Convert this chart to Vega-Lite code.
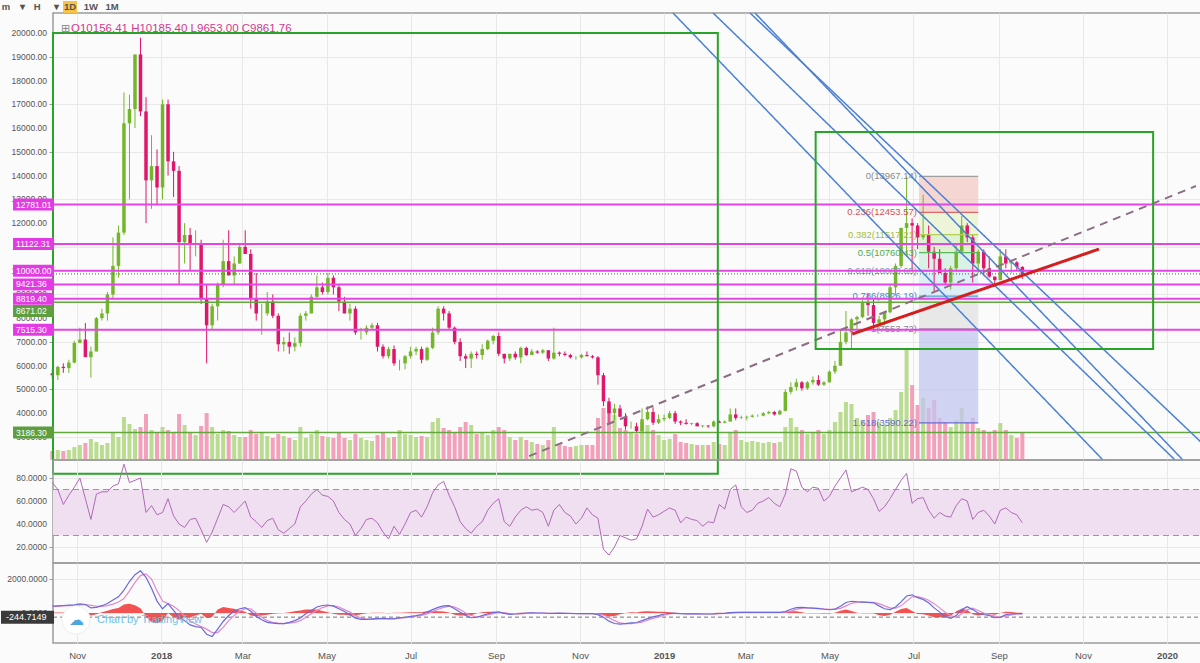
{
"$schema":"https://vega.github.io/schema/vega-lite/v6.json",
"background":"#fbfbfb",
"padding":{"left":0,"top":0,"right":0,"bottom":6},
"bounds":"flush",
"spacing":0,
"config":{
 "view":{"stroke":"#9c9c9c","strokeWidth":1.5},
 "scale":{"continuousPadding":0},
 "axis":{"labelFont":"Liberation Sans","labelFontSize":8.5,"labelColor":"#555","gridColor":"#e8e8e8","tickColor":"#999","tickSize":4,"labelPadding":2,"domain":false,"labelFlush":false,"labelOverlap":false},
 "text":{"font":"Liberation Sans"}
},
"datasets":{
 "px":[
{"d":"2017-10-14","o":5680,"h":5850,"l":5450,"c":5600,"v":90,"r":76,"m":400,"s":370,"g":30},
{"d":"2017-10-18","o":5600,"h":6000,"l":5400,"c":5950,"v":100,"r":70,"m":420,"s":390,"g":30},
{"d":"2017-10-22","o":5950,"h":6100,"l":5700,"c":5900,"v":90,"r":57,"m":440,"s":410,"g":30},
{"d":"2017-10-26","o":5900,"h":6250,"l":5700,"c":6130,"v":100,"r":65,"m":460,"s":430,"g":30},
{"d":"2017-10-30","o":6130,"h":7050,"l":6100,"c":6960,"v":130,"r":72,"m":480,"s":450,"g":30},
{"d":"2017-11-03","o":6960,"h":7600,"l":6950,"c":7100,"v":150,"r":80,"m":540,"s":480,"g":60},
{"d":"2017-11-07","o":7100,"h":7800,"l":6400,"c":6360,"v":170,"r":62,"m":500,"s":500,"g":0},
{"d":"2017-11-11","o":6360,"h":6800,"l":5500,"c":6600,"v":210,"r":44,"m":300,"s":450,"g":-150},
{"d":"2017-11-15","o":6600,"h":8050,"l":6600,"c":8000,"v":180,"r":66,"m":330,"s":400,"g":-70},
{"d":"2017-11-19","o":8000,"h":8400,"l":7900,"c":8200,"v":150,"r":68,"m":430,"s":390,"g":40},
{"d":"2017-11-23","o":8200,"h":9100,"l":7900,"c":9000,"v":170,"r":68,"m":560,"s":430,"g":130},
{"d":"2017-11-27","o":9000,"h":11400,"l":8800,"c":10200,"v":280,"r":73,"m":760,"s":520,"g":240},
{"d":"2017-12-01","o":10200,"h":11900,"l":9700,"c":11600,"v":230,"r":75,"m":950,"s":650,"g":300},
{"d":"2017-12-05","o":11600,"h":17500,"l":11500,"c":16200,"v":430,"r":92,"m":1350,"s":850,"g":500},
{"d":"2017-12-09","o":16200,"h":17400,"l":13000,"c":16800,"v":360,"r":76,"m":1850,"s":1300,"g":550},
{"d":"2017-12-13","o":16800,"h":19000,"l":16000,"c":19100,"v":310,"r":78,"m":2250,"s":1800,"g":450},
{"d":"2017-12-17","o":19100,"h":19800,"l":16500,"c":16700,"v":330,"r":80,"m":2480,"s":2200,"g":280},
{"d":"2017-12-21","o":16700,"h":17300,"l":12000,"c":13800,"v":460,"r":50,"m":2100,"s":2300,"g":-200},
{"d":"2017-12-25","o":13800,"h":15700,"l":12600,"c":14400,"v":300,"r":56,"m":1450,"s":2000,"g":-550},
{"d":"2017-12-29","o":14400,"h":15100,"l":12800,"c":13500,"v":270,"r":48,"m":700,"s":1300,"g":-600},
{"d":"2018-01-02","o":13500,"h":17200,"l":13000,"c":17000,"v":330,"r":50,"m":250,"s":700,"g":-450},
{"d":"2018-01-06","o":17000,"h":17200,"l":14000,"c":14600,"v":300,"r":62,"m":550,"s":550,"g":0},
{"d":"2018-01-10","o":14600,"h":15000,"l":13100,"c":14200,"v":280,"r":47,"m":150,"s":400,"g":-250},
{"d":"2018-01-14","o":14200,"h":14400,"l":9400,"c":11200,"v":460,"r":40,"m":-250,"s":150,"g":-400},
{"d":"2018-01-18","o":11200,"h":12000,"l":10300,"c":11500,"v":350,"r":37,"m":-450,"s":-200,"g":-250},
{"d":"2018-01-22","o":11500,"h":11800,"l":10000,"c":11100,"v":280,"r":44,"m":-700,"s":-450,"g":-250},
{"d":"2018-01-26","o":11100,"h":11700,"l":10600,"c":11100,"v":250,"r":45,"m":-800,"s":-650,"g":-150},
{"d":"2018-01-30","o":11100,"h":11300,"l":8600,"c":8800,"v":340,"r":35,"m":-850,"s":-800,"g":-50},
{"d":"2018-02-03","o":8800,"h":9400,"l":6100,"c":7700,"v":470,"r":24,"m":-1250,"s":-950,"g":-300},
{"d":"2018-02-07","o":7700,"h":8600,"l":7500,"c":8500,"v":330,"r":33,"m":-1380,"s":-1150,"g":-230},
{"d":"2018-02-11","o":8500,"h":9500,"l":7900,"c":9400,"v":260,"r":45,"m":-950,"s":-1150,"g":200},
{"d":"2018-02-15","o":9400,"h":11300,"l":9300,"c":10400,"v":300,"r":57,"m":-500,"s":-850,"g":350},
{"d":"2018-02-19","o":10400,"h":11700,"l":9800,"c":9800,"v":290,"r":55,"m":-150,"s":-450,"g":300},
{"d":"2018-02-23","o":9800,"h":10600,"l":9400,"c":10300,"v":250,"r":50,"m":100,"s":-150,"g":250},
{"d":"2018-02-27","o":10300,"h":11100,"l":10300,"c":11000,"v":230,"r":55,"m":250,"s":100,"g":150},
{"d":"2018-03-03","o":11000,"h":11700,"l":10700,"c":10700,"v":230,"r":60,"m":320,"s":250,"g":70},
{"d":"2018-03-07","o":10700,"h":10900,"l":8400,"c":8800,"v":300,"r":46,"m":100,"s":250,"g":-150},
{"d":"2018-03-11","o":8800,"h":9900,"l":7900,"c":8200,"v":260,"r":42,"m":-200,"s":0,"g":-200},
{"d":"2018-03-15","o":8200,"h":8600,"l":7300,"c":8200,"v":280,"r":37,"m":-400,"s":-250,"g":-150},
{"d":"2018-03-19","o":8200,"h":9100,"l":8100,"c":8700,"v":240,"r":43,"m":-550,"s":-450,"g":-100},
{"d":"2018-03-23","o":8700,"h":9000,"l":8000,"c":8100,"v":220,"r":45,"m":-600,"s":-550,"g":-50},
{"d":"2018-03-27","o":8100,"h":8200,"l":6600,"c":6900,"v":260,"r":35,"m":-620,"s":-600,"g":-20},
{"d":"2018-03-31","o":6900,"h":7200,"l":6600,"c":7000,"v":240,"r":32,"m":-620,"s":-620,"g":0},
{"d":"2018-04-04","o":7000,"h":7400,"l":6500,"c":6800,"v":220,"r":36,"m":-550,"s":-600,"g":50},
{"d":"2018-04-08","o":6800,"h":7200,"l":6600,"c":6950,"v":200,"r":40,"m":-450,"s":-550,"g":100},
{"d":"2018-04-12","o":6950,"h":8200,"l":6800,"c":8100,"v":330,"r":55,"m":-300,"s":-450,"g":150},
{"d":"2018-04-16","o":8100,"h":8300,"l":7900,"c":8200,"v":220,"r":60,"m":-50,"s":-250,"g":200},
{"d":"2018-04-20","o":8200,"h":9000,"l":8200,"c":8900,"v":260,"r":66,"m":150,"s":-50,"g":200},
{"d":"2018-04-24","o":8900,"h":9800,"l":8800,"c":9300,"v":300,"r":70,"m":350,"s":150,"g":200},
{"d":"2018-04-28","o":9300,"h":9500,"l":9000,"c":9100,"v":240,"r":65,"m":440,"s":320,"g":120},
{"d":"2018-05-02","o":9100,"h":9900,"l":9000,"c":9700,"v":230,"r":64,"m":470,"s":420,"g":50},
{"d":"2018-05-06","o":9700,"h":9800,"l":9000,"c":9300,"v":220,"r":60,"m":400,"s":440,"g":-40},
{"d":"2018-05-10","o":9300,"h":9400,"l":8300,"c":8700,"v":280,"r":50,"m":250,"s":350,"g":-100},
{"d":"2018-05-14","o":8700,"h":8900,"l":8200,"c":8200,"v":220,"r":44,"m":90,"s":200,"g":-110},
{"d":"2018-05-18","o":8200,"h":8600,"l":7900,"c":8400,"v":200,"r":40,"m":-100,"s":50,"g":-150},
{"d":"2018-05-22","o":8400,"h":8500,"l":7300,"c":7400,"v":260,"r":30,"m":-300,"s":-150,"g":-150},
{"d":"2018-05-26","o":7400,"h":7600,"l":7100,"c":7400,"v":220,"r":36,"m":-370,"s":-300,"g":-70},
{"d":"2018-05-30","o":7400,"h":7700,"l":7300,"c":7600,"v":200,"r":44,"m":-380,"s":-360,"g":-20},
{"d":"2018-06-03","o":7600,"h":7800,"l":7500,"c":7700,"v":190,"r":45,"m":-350,"s":-370,"g":20},
{"d":"2018-06-07","o":7700,"h":7800,"l":6600,"c":6800,"v":250,"r":41,"m":-330,"s":-350,"g":20},
{"d":"2018-06-11","o":6800,"h":6900,"l":6300,"c":6400,"v":280,"r":33,"m":-320,"s":-330,"g":10},
{"d":"2018-06-15","o":6400,"h":6800,"l":6300,"c":6700,"v":220,"r":27,"m":-350,"s":-330,"g":-20},
{"d":"2018-06-19","o":6700,"h":6850,"l":6000,"c":6100,"v":230,"r":38,"m":-330,"s":-340,"g":10},
{"d":"2018-06-23","o":6100,"h":6250,"l":5800,"c":6100,"v":300,"r":31,"m":-290,"s":-310,"g":20},
{"d":"2018-06-27","o":6100,"h":6450,"l":5850,"c":6400,"v":260,"r":40,"m":-250,"s":-280,"g":30},
{"d":"2018-07-01","o":6400,"h":6800,"l":6300,"c":6600,"v":250,"r":50,"m":-200,"s":-240,"g":40},
{"d":"2018-07-05","o":6600,"h":6800,"l":6450,"c":6700,"v":230,"r":52,"m":-150,"s":-190,"g":40},
{"d":"2018-07-09","o":6700,"h":6800,"l":6100,"c":6250,"v":240,"r":46,"m":-90,"s":-140,"g":50},
{"d":"2018-07-13","o":6250,"h":6800,"l":6200,"c":6750,"v":230,"r":55,"m":50,"s":-50,"g":100},
{"d":"2018-07-17","o":6750,"h":7600,"l":6700,"c":7400,"v":380,"r":67,"m":200,"s":80,"g":120},
{"d":"2018-07-21","o":7400,"h":8500,"l":7300,"c":8400,"v":420,"r":74,"m":330,"s":220,"g":110},
{"d":"2018-07-25","o":8400,"h":8500,"l":7900,"c":8200,"v":320,"r":77,"m":420,"s":330,"g":90},
{"d":"2018-07-29","o":8200,"h":8300,"l":7500,"c":7600,"v":300,"r":65,"m":430,"s":400,"g":30},
{"d":"2018-08-02","o":7600,"h":7650,"l":6900,"c":7000,"v":280,"r":55,"m":250,"s":350,"g":-100},
{"d":"2018-08-06","o":7000,"h":7150,"l":6200,"c":6400,"v":330,"r":42,"m":50,"s":200,"g":-150},
{"d":"2018-08-10","o":6400,"h":6500,"l":5900,"c":6300,"v":380,"r":36,"m":-150,"s":0,"g":-150},
{"d":"2018-08-14","o":6300,"h":6600,"l":5900,"c":6500,"v":350,"r":32,"m":-280,"s":-150,"g":-130},
{"d":"2018-08-18","o":6500,"h":6600,"l":6300,"c":6450,"v":260,"r":38,"m":-250,"s":-240,"g":-10},
{"d":"2018-08-22","o":6450,"h":6900,"l":6250,"c":6700,"v":280,"r":42,"m":-150,"s":-200,"g":50},
{"d":"2018-08-26","o":6700,"h":7100,"l":6650,"c":7050,"v":250,"r":52,"m":-50,"s":-120,"g":70},
{"d":"2018-08-30","o":7050,"h":7300,"l":6900,"c":7250,"v":300,"r":58,"m":40,"s":-40,"g":80},
{"d":"2018-09-03","o":7250,"h":7400,"l":6400,"c":6500,"v":330,"r":62,"m":60,"s":30,"g":30},
{"d":"2018-09-07","o":6500,"h":6500,"l":6100,"c":6300,"v":300,"r":42,"m":-20,"s":20,"g":-40},
{"d":"2018-09-11","o":6300,"h":6500,"l":6200,"c":6500,"v":230,"r":38,"m":-80,"s":-40,"g":-40},
{"d":"2018-09-15","o":6500,"h":6600,"l":6250,"c":6350,"v":200,"r":46,"m":-60,"s":-60,"g":0},
{"d":"2018-09-19","o":6350,"h":6800,"l":6100,"c":6750,"v":230,"r":52,"m":-30,"s":-50,"g":20},
{"d":"2018-09-23","o":6750,"h":6800,"l":6400,"c":6450,"v":200,"r":55,"m":0,"s":-20,"g":20},
{"d":"2018-09-27","o":6450,"h":6700,"l":6450,"c":6600,"v":180,"r":52,"m":10,"s":0,"g":10},
{"d":"2018-10-01","o":6600,"h":6650,"l":6500,"c":6550,"v":160,"r":53,"m":0,"s":0,"g":0},
{"d":"2018-10-05","o":6550,"h":6700,"l":6500,"c":6650,"v":150,"r":50,"m":0,"s":0,"g":0},
{"d":"2018-10-09","o":6650,"h":6650,"l":6200,"c":6300,"v":200,"r":38,"m":-30,"s":-10,"g":-20},
{"d":"2018-10-13","o":6300,"h":7600,"l":6250,"c":6550,"v":330,"r":52,"m":-20,"s":-20,"g":0},
{"d":"2018-10-17","o":6550,"h":6600,"l":6400,"c":6500,"v":160,"r":57,"m":-10,"s":-15,"g":5},
{"d":"2018-10-21","o":6500,"h":6600,"l":6400,"c":6450,"v":140,"r":50,"m":-20,"s":-15,"g":-5},
{"d":"2018-10-25","o":6450,"h":6500,"l":6300,"c":6350,"v":130,"r":47,"m":-30,"s":-20,"g":-10},
{"d":"2018-10-29","o":6350,"h":6400,"l":6250,"c":6350,"v":140,"r":40,"m":-40,"s":-30,"g":-10},
{"d":"2018-11-02","o":6350,"h":6500,"l":6300,"c":6450,"v":150,"r":45,"m":-40,"s":-35,"g":-5},
{"d":"2018-11-06","o":6450,"h":6600,"l":6400,"c":6400,"v":150,"r":54,"m":-30,"s":-35,"g":5},
{"d":"2018-11-10","o":6400,"h":6450,"l":6300,"c":6350,"v":150,"r":48,"m":-40,"s":-35,"g":-5},
{"d":"2018-11-14","o":6350,"h":6400,"l":5200,"c":5600,"v":420,"r":45,"m":-100,"s":-60,"g":-40},
{"d":"2018-11-18","o":5600,"h":5700,"l":4300,"c":4500,"v":520,"r":18,"m":-250,"s":-120,"g":-130},
{"d":"2018-11-22","o":4500,"h":4650,"l":3550,"c":4000,"v":560,"r":13,"m":-480,"s":-280,"g":-200},
{"d":"2018-11-26","o":4000,"h":4400,"l":3700,"c":4200,"v":450,"r":20,"m":-620,"s":-450,"g":-170},
{"d":"2018-11-30","o":4200,"h":4350,"l":3850,"c":3850,"v":320,"r":30,"m":-650,"s":-580,"g":-70},
{"d":"2018-12-04","o":3850,"h":4000,"l":3300,"c":3450,"v":300,"r":28,"m":-630,"s":-630,"g":0},
{"d":"2018-12-08","o":3450,"h":3650,"l":3350,"c":3450,"v":280,"r":26,"m":-580,"s":-620,"g":40},
{"d":"2018-12-12","o":3450,"h":3600,"l":3150,"c":3250,"v":260,"r":27,"m":-560,"s":-590,"g":30},
{"d":"2018-12-16","o":3250,"h":4200,"l":3200,"c":3750,"v":380,"r":38,"m":-450,"s":-540,"g":90},
{"d":"2018-12-20","o":3750,"h":4300,"l":3700,"c":4050,"v":350,"r":53,"m":-330,"s":-430,"g":100},
{"d":"2018-12-24","o":4050,"h":4250,"l":3500,"c":3600,"v":300,"r":46,"m":-230,"s":-320,"g":90},
{"d":"2018-12-28","o":3600,"h":3950,"l":3550,"c":3750,"v":250,"r":48,"m":-150,"s":-230,"g":80},
{"d":"2019-01-01","o":3750,"h":3950,"l":3650,"c":3800,"v":200,"r":51,"m":-60,"s":-130,"g":70},
{"d":"2019-01-05","o":3800,"h":4100,"l":3750,"c":4000,"v":210,"r":54,"m":-20,"s":-60,"g":40},
{"d":"2019-01-09","o":4000,"h":4100,"l":3550,"c":3650,"v":260,"r":52,"m":-20,"s":-30,"g":10},
{"d":"2019-01-13","o":3650,"h":3700,"l":3500,"c":3600,"v":180,"r":41,"m":-40,"s":-30,"g":-10},
{"d":"2019-01-17","o":3600,"h":3750,"l":3520,"c":3550,"v":170,"r":46,"m":-50,"s":-40,"g":-10},
{"d":"2019-01-21","o":3550,"h":3600,"l":3500,"c":3580,"v":160,"r":44,"m":-50,"s":-50,"g":0},
{"d":"2019-01-25","o":3580,"h":3620,"l":3450,"c":3450,"v":150,"r":43,"m":-50,"s":-50,"g":0},
{"d":"2019-01-29","o":3450,"h":3500,"l":3400,"c":3480,"v":150,"r":38,"m":-60,"s":-55,"g":-5},
{"d":"2019-02-02","o":3480,"h":3500,"l":3380,"c":3450,"v":150,"r":42,"m":-60,"s":-60,"g":0},
{"d":"2019-02-06","o":3450,"h":3700,"l":3400,"c":3650,"v":180,"r":41,"m":-50,"s":-55,"g":5},
{"d":"2019-02-10","o":3650,"h":3700,"l":3580,"c":3600,"v":160,"r":57,"m":-30,"s":-40,"g":10},
{"d":"2019-02-14","o":3600,"h":3700,"l":3570,"c":3650,"v":150,"r":53,"m":-20,"s":-25,"g":5},
{"d":"2019-02-18","o":3650,"h":4200,"l":3650,"c":3950,"v":280,"r":70,"m":20,"s":-5,"g":25},
{"d":"2019-02-22","o":3950,"h":4200,"l":3700,"c":3800,"v":300,"r":74,"m":40,"s":20,"g":20},
{"d":"2019-02-26","o":3800,"h":3900,"l":3750,"c":3820,"v":200,"r":55,"m":40,"s":35,"g":5},
{"d":"2019-03-02","o":3820,"h":3900,"l":3700,"c":3850,"v":180,"r":50,"m":40,"s":40,"g":0},
{"d":"2019-03-06","o":3850,"h":3950,"l":3820,"c":3900,"v":190,"r":52,"m":35,"s":40,"g":-5},
{"d":"2019-03-10","o":3900,"h":3950,"l":3850,"c":3900,"v":180,"r":58,"m":35,"s":35,"g":0},
{"d":"2019-03-14","o":3900,"h":4050,"l":3870,"c":4000,"v":170,"r":60,"m":40,"s":35,"g":5},
{"d":"2019-03-18","o":4000,"h":4100,"l":3950,"c":4050,"v":180,"r":63,"m":45,"s":40,"g":5},
{"d":"2019-03-22","o":4050,"h":4100,"l":3900,"c":3950,"v":170,"r":58,"m":40,"s":40,"g":0},
{"d":"2019-03-26","o":3950,"h":4150,"l":3930,"c":4100,"v":180,"r":55,"m":40,"s":40,"g":0},
{"d":"2019-03-30","o":4100,"h":5000,"l":4080,"c":4900,"v":330,"r":66,"m":80,"s":50,"g":30},
{"d":"2019-04-03","o":4900,"h":5300,"l":4800,"c":5100,"v":420,"r":88,"m":220,"s":110,"g":110},
{"d":"2019-04-07","o":5100,"h":5450,"l":4950,"c":5300,"v":330,"r":86,"m":320,"s":210,"g":110},
{"d":"2019-04-11","o":5300,"h":5350,"l":4950,"c":5050,"v":300,"r":72,"m":330,"s":290,"g":40},
{"d":"2019-04-15","o":5050,"h":5350,"l":4980,"c":5300,"v":260,"r":68,"m":300,"s":310,"g":-10},
{"d":"2019-04-19","o":5300,"h":5550,"l":5200,"c":5400,"v":280,"r":72,"m":280,"s":300,"g":-20},
{"d":"2019-04-23","o":5400,"h":5600,"l":5150,"c":5200,"v":300,"r":71,"m":260,"s":280,"g":-20},
{"d":"2019-04-27","o":5200,"h":5350,"l":5150,"c":5300,"v":260,"r":60,"m":220,"s":250,"g":-30},
{"d":"2019-05-01","o":5300,"h":5800,"l":5300,"c":5750,"v":300,"r":64,"m":190,"s":220,"g":-30},
{"d":"2019-05-05","o":5750,"h":6200,"l":5650,"c":6000,"v":380,"r":73,"m":230,"s":210,"g":20},
{"d":"2019-05-09","o":6000,"h":7500,"l":6000,"c":7000,"v":480,"r":80,"m":400,"s":270,"g":130},
{"d":"2019-05-13","o":7000,"h":8300,"l":6900,"c":7400,"v":580,"r":87,"m":620,"s":420,"g":200},
{"d":"2019-05-17","o":7400,"h":8000,"l":6700,"c":7950,"v":560,"r":68,"m":690,"s":570,"g":120},
{"d":"2019-05-21","o":7950,"h":8100,"l":7550,"c":8050,"v":420,"r":70,"m":660,"s":640,"g":20},
{"d":"2019-05-25","o":8050,"h":8800,"l":8000,"c":8650,"v":400,"r":72,"m":640,"s":650,"g":-10},
{"d":"2019-05-29","o":8650,"h":9050,"l":8100,"c":8550,"v":450,"r":70,"m":620,"s":630,"g":-10},
{"d":"2019-06-02","o":8550,"h":8800,"l":7450,"c":7800,"v":480,"r":62,"m":600,"s":620,"g":-20},
{"d":"2019-06-06","o":7800,"h":8100,"l":7500,"c":7950,"v":380,"r":51,"m":420,"s":550,"g":-130},
{"d":"2019-06-10","o":7950,"h":8300,"l":7700,"c":8250,"v":350,"r":55,"m":250,"s":420,"g":-170},
{"d":"2019-06-14","o":8250,"h":9400,"l":8200,"c":9300,"v":420,"r":62,"m":200,"s":300,"g":-100},
{"d":"2019-06-18","o":9300,"h":10300,"l":8950,"c":10200,"v":500,"r":70,"m":350,"s":280,"g":70},
{"d":"2019-06-22","o":10200,"h":11800,"l":10100,"c":11800,"v":680,"r":78,"m":650,"s":420,"g":230},
{"d":"2019-06-26","o":11800,"h":13960,"l":10600,"c":12000,"v":1100,"r":84,"m":1000,"s":700,"g":300},
{"d":"2019-06-30","o":12000,"h":12200,"l":10000,"c":11900,"v":750,"r":58,"m":1070,"s":950,"g":120},
{"d":"2019-07-04","o":11900,"h":12000,"l":10900,"c":11400,"v":550,"r":62,"m":900,"s":960,"g":-60},
{"d":"2019-07-08","o":11400,"h":13200,"l":11300,"c":11500,"v":620,"r":63,"m":800,"s":880,"g":-80},
{"d":"2019-07-12","o":11500,"h":11900,"l":10100,"c":10800,"v":520,"r":52,"m":600,"s":750,"g":-150},
{"d":"2019-07-16","o":10800,"h":11000,"l":9100,"c":10500,"v":600,"r":45,"m":300,"s":550,"g":-250},
{"d":"2019-07-20","o":10500,"h":10900,"l":9900,"c":9900,"v":420,"r":50,"m":50,"s":300,"g":-250},
{"d":"2019-07-24","o":9900,"h":10100,"l":9400,"c":9500,"v":380,"r":47,"m":-200,"s":50,"g":-250},
{"d":"2019-07-28","o":9500,"h":10200,"l":9200,"c":10100,"v":330,"r":46,"m":-320,"s":-150,"g":-170},
{"d":"2019-08-01","o":10100,"h":11100,"l":10000,"c":10800,"v":400,"r":56,"m":-150,"s":-250,"g":100},
{"d":"2019-08-05","o":10800,"h":12300,"l":10800,"c":11900,"v":520,"r":62,"m":200,"s":-50,"g":250},
{"d":"2019-08-09","o":11900,"h":12000,"l":11200,"c":11400,"v":380,"r":60,"m":370,"s":200,"g":170},
{"d":"2019-08-13","o":11400,"h":11500,"l":9500,"c":10300,"v":420,"r":44,"m":200,"s":280,"g":-80},
{"d":"2019-08-17","o":10300,"h":10900,"l":9900,"c":10800,"v":320,"r":50,"m":0,"s":150,"g":-150},
{"d":"2019-08-21","o":10800,"h":10900,"l":9800,"c":10100,"v":300,"r":52,"m":-90,"s":0,"g":-90},
{"d":"2019-08-25","o":10100,"h":10600,"l":9700,"c":9750,"v":280,"r":47,"m":-150,"s":-100,"g":-50},
{"d":"2019-08-29","o":9750,"h":9750,"l":9350,"c":9600,"v":300,"r":40,"m":-280,"s":-180,"g":-100},
{"d":"2019-09-02","o":9600,"h":10900,"l":9600,"c":10600,"v":370,"r":52,"m":-250,"s":-250,"g":0},
{"d":"2019-09-06","o":10600,"h":10900,"l":10100,"c":10300,"v":300,"r":54,"m":-100,"s":-180,"g":80},
{"d":"2019-09-10","o":10300,"h":10400,"l":9900,"c":10350,"v":250,"r":50,"m":-50,"s":-110,"g":60},
{"d":"2019-09-14","o":10350,"h":10400,"l":10000,"c":10150,"v":220,"r":48,"m":-40,"s":-60,"g":20},
{"d":"2019-09-18","o":10156.41,"h":10185.4,"l":9653,"c":9861.76,"v":280,"r":41,"m":-40,"s":-50,"g":10}
 ],
 "fb":[
{"d":"2019-07-05","d2":"2019-08-17","p":13967.14,"p2":12453.57,"k":"b0"},
{"d":"2019-07-05","d2":"2019-08-17","p":12453.57,"p2":11517.21,"k":"b1"},
{"d":"2019-07-05","d2":"2019-08-17","p":11517.21,"p2":10760.43,"k":"b2"},
{"d":"2019-07-05","d2":"2019-08-17","p":10760.43,"p2":10003.65,"k":"b3"},
{"d":"2019-07-05","d2":"2019-08-17","p":10003.65,"p2":8926.19,"k":"b4"},
{"d":"2019-07-05","d2":"2019-08-17","p":8926.19,"p2":7553.72,"k":"b5"},
{"d":"2019-07-05","d2":"2019-08-17","p":7553.72,"p2":3590.22,"k":"b6"}
 ],
 "fl":[
{"d":"2019-07-05","d2":"2019-08-17","p":13967.14,"k":"0","t":"0(13967.14)"},
{"d":"2019-07-05","d2":"2019-08-17","p":12453.57,"k":"0.236","t":"0.236(12453.57)"},
{"d":"2019-07-05","d2":"2019-08-17","p":11517.21,"k":"0.382","t":"0.382(11517.21)"},
{"d":"2019-07-05","d2":"2019-08-17","p":10760.43,"k":"0.5","t":"0.5(10760.43)"},
{"d":"2019-07-05","d2":"2019-08-17","p":10003.65,"k":"0.618","t":"0.618(10003.65)"},
{"d":"2019-07-05","d2":"2019-08-17","p":8926.19,"k":"0.786","t":"0.786(8926.19)"},
{"d":"2019-07-05","d2":"2019-08-17","p":7553.72,"k":"1","t":"1(7553.72)"},
{"d":"2019-07-05","d2":"2019-08-17","p":3590.22,"k":"1.618","t":"1.618(3590.22)"}
 ],
 "hl":[
{"d":"2017-10-14T12:00:00Z","d2":"2020-01-25T16:00:00Z","p":12781.01,"k":"m"},
{"d":"2017-10-14T12:00:00Z","d2":"2020-01-25T16:00:00Z","p":11122.31,"k":"m"},
{"d":"2017-10-14T12:00:00Z","d2":"2020-01-25T16:00:00Z","p":10000,"k":"m"},
{"d":"2017-10-14T12:00:00Z","d2":"2020-01-25T16:00:00Z","p":9861.76,"k":"k"},
{"d":"2017-10-14T12:00:00Z","d2":"2020-01-25T16:00:00Z","p":9421.36,"k":"m"},
{"d":"2017-10-14T12:00:00Z","d2":"2020-01-25T16:00:00Z","p":8819.4,"k":"m"},
{"d":"2017-10-14T12:00:00Z","d2":"2020-01-25T16:00:00Z","p":8671.02,"k":"g"},
{"d":"2017-10-14T12:00:00Z","d2":"2020-01-25T16:00:00Z","p":7515.3,"k":"m"},
{"d":"2017-10-14T12:00:00Z","d2":"2020-01-25T16:00:00Z","p":3186.3,"k":"g"}
 ],
 "hb":[
{"d":"2017-09-15T12:00:00Z","d2":"2017-10-15T06:00:00Z","p":12781.01,"k":"m","t":"12781.01"},
{"d":"2017-09-15T12:00:00Z","d2":"2017-10-15T06:00:00Z","p":11122.31,"k":"m","t":"11122.31"},
{"d":"2017-09-15T12:00:00Z","d2":"2017-10-15T06:00:00Z","p":10000,"k":"m","t":"10000.00"},
{"d":"2017-09-15T12:00:00Z","d2":"2017-10-15T06:00:00Z","p":9421.36,"k":"m","t":"9421.36"},
{"d":"2017-09-15T12:00:00Z","d2":"2017-10-15T06:00:00Z","p":8819.4,"k":"m","t":"8819.40"},
{"d":"2017-09-15T12:00:00Z","d2":"2017-10-15T06:00:00Z","p":8300,"k":"g","t":"8671.02"},
{"d":"2017-09-15T12:00:00Z","d2":"2017-10-15T06:00:00Z","p":7515.3,"k":"m","t":"7515.30"},
{"d":"2017-09-15T12:00:00Z","d2":"2017-10-15T06:00:00Z","p":3186.3,"k":"g","t":"3186.30"}
 ],
 "yt":[
{"d":"2017-10-14T12:00:00Z","p":3000},{"d":"2017-10-14T12:00:00Z","p":4000},{"d":"2017-10-14T12:00:00Z","p":5000},
{"d":"2017-10-14T12:00:00Z","p":6000},{"d":"2017-10-14T12:00:00Z","p":7000},{"d":"2017-10-14T12:00:00Z","p":8000},
{"d":"2017-10-14T12:00:00Z","p":9000},{"d":"2017-10-14T12:00:00Z","p":10000},{"d":"2017-10-14T12:00:00Z","p":11000},
{"d":"2017-10-14T12:00:00Z","p":12000},{"d":"2017-10-14T12:00:00Z","p":13000},{"d":"2017-10-14T12:00:00Z","p":14000},
{"d":"2017-10-14T12:00:00Z","p":15000},{"d":"2017-10-14T12:00:00Z","p":16000},{"d":"2017-10-14T12:00:00Z","p":17000},
{"d":"2017-10-14T12:00:00Z","p":18000},{"d":"2017-10-14T12:00:00Z","p":19000},{"d":"2017-10-14T12:00:00Z","p":20000}
 ],
 "ln":[
{"id":"b1","d":"2019-01-07T12:00:00Z","p":20842},{"id":"b1","d":"2019-11-15T12:00:00Z","p":2032},
{"id":"b2","d":"2019-02-05T14:00:00Z","p":20842},{"id":"b2","d":"2020-01-06T20:00:00Z","p":2032},
{"id":"b3","d":"2019-03-08T00:00:00Z","p":20842},{"id":"b3","d":"2020-01-12T12:00:00Z","p":2032},
{"id":"b4","d":"2019-03-04T10:00:00Z","p":20842},{"id":"b4","d":"2020-01-25T16:00:00Z","p":2786},
{"id":"r","d":"2019-05-17T12:00:00Z","p":7332},{"id":"r","d":"2019-11-12T16:00:00Z","p":10909},
{"id":"t","d":"2018-09-25T00:00:00Z","p":2197},{"id":"t","d":"2020-01-22T00:00:00Z","p":13561}
 ],
 "rc":[
{"d":"2017-10-14T12:00:00Z","d2":"2019-02-09T00:00:00Z","p":20000,"p2":1450},
{"d":"2019-04-21T00:00:00Z","d2":"2019-12-21T22:00:00Z","p":15833,"p2":6700}
 ],
 "tb":[
{"d":"2017-09-10T10:00:00Z","p":21094,"t":"m"},
{"d":"2017-09-22T17:00:00Z","p":21094,"t":"▾"},
{"d":"2017-10-03T00:00:00Z","p":21094,"t":"H"},
{"d":"2017-10-16T17:00:00Z","p":21094,"t":"▾"},
{"d":"2017-10-26T20:00:00Z","p":21094,"t":"1D"},
{"d":"2017-11-11T00:00:00Z","p":21094,"t":"1W"},
{"d":"2017-11-26T08:00:00Z","p":21094,"t":"1M"}
 ]
},
"vconcat":[
{
 "width":1148,"height":447,
 "encoding":{"x":{"field":"d","type":"temporal","title":null,
   "scale":{"type":"utc","padding":0,"domain":[{"year":2017,"month":10,"date":14,"hours":12,"utc":true},{"year":2020,"month":1,"date":25,"hours":16,"utc":true}]},
   "axis":{"values":[{"year":2017,"month":11,"date":1,"utc":true},{"year":2018,"month":1,"date":1,"utc":true},{"year":2018,"month":3,"date":1,"utc":true},{"year":2018,"month":5,"date":1,"utc":true},{"year":2018,"month":7,"date":1,"utc":true},{"year":2018,"month":9,"date":1,"utc":true},{"year":2018,"month":11,"date":1,"utc":true},{"year":2019,"month":1,"date":1,"utc":true},{"year":2019,"month":3,"date":1,"utc":true},{"year":2019,"month":5,"date":1,"utc":true},{"year":2019,"month":7,"date":1,"utc":true},{"year":2019,"month":9,"date":1,"utc":true},{"year":2019,"month":11,"date":1,"utc":true},{"year":2020,"month":1,"date":1,"utc":true}],"labels":false,"ticks":false,"grid":true,"title":null}}},
 "resolve":{"scale":{"y":"independent"}},
 "layer":[
  {"data":{"name":"px"},"mark":{"type":"bar","size":4,"opacity":0.9},
   "encoding":{"y":{"field":"v","type":"quantitative","title":null,"scale":{"domain":[0,4470],"padding":0},"axis":null},
    "color":{"condition":{"test":"datum.c>=datum.o","value":"#b3d884"},"value":"#f296b4"}}},
  {"layer":[
   {"data":{"name":"fb"},"mark":{"type":"rect","fillOpacity":0.75},
    "encoding":{"x2":{"field":"d2"},"y":{"field":"p","type":"quantitative","title":null,"scale":{"domain":[2032,20842],"padding":0}},"y2":{"field":"p2"},
     "fill":{"field":"k","type":"nominal","legend":null,"scale":{"domain":["b0","b1","b2","b3","b4","b5","b6"],"range":["#f4c9c6","#eaf2cc","#d6edc6","#cfeedd","#d2e9f4","#e2e2e2","#c3c6f0"]}}}},
   {"data":{"name":"px"},"mark":{"type":"rule","strokeWidth":1},
    "encoding":{"y":{"field":"l","type":"quantitative","title":null,"scale":{"domain":[2032,20842],"padding":0},
      "axis":{"orient":"left","values":[3000,4000,5000,6000,7000,8000,9000,10000,11000,12000,13000,14000,15000,16000,17000,18000,19000,20000],"labels":false,"grid":true,"title":null}},
     "y2":{"field":"h"},
     "color":{"condition":{"test":"datum.c>=datum.o","value":"#74b62b"},"value":"#e0166a"}}},
   {"data":{"name":"px"},"mark":{"type":"bar","size":3.5},
    "encoding":{"y":{"field":"o","type":"quantitative","title":null,"scale":{"domain":[2032,20842],"padding":0}},"y2":{"field":"c"},
     "color":{"condition":{"test":"datum.c>=datum.o","value":"#74b62b"},"value":"#e0166a"}}},
   {"data":{"name":"yt"},"mark":{"type":"text","align":"right","baseline":"middle","dx":-6,"fontSize":8.5,"color":"#555"},
    "encoding":{"y":{"field":"p","type":"quantitative","title":null,"scale":{"domain":[2032,20842],"padding":0}},"text":{"field":"p","type":"quantitative","format":".2f"}}},
   {"data":{"name":"fl"},"mark":{"type":"rule","strokeWidth":1.3},
    "encoding":{"x2":{"field":"d2"},"y":{"field":"p","type":"quantitative","title":null,"scale":{"domain":[2032,20842],"padding":0}},
     "stroke":{"field":"k","type":"nominal","legend":null,"scale":{"domain":["0","0.236","0.382","0.5","0.618","0.786","1","1.618"],"range":["#9e9e9e","#e06666","#b5cf5b","#5cb85c","#7aa8b0","#4aa3df","#9e9e9e","#6b6bd6"]}}}},
   {"data":{"name":"fl"},"mark":{"type":"text","align":"right","baseline":"middle","dx":-2,"fontSize":9.5},
    "encoding":{"y":{"field":"p","type":"quantitative","title":null,"scale":{"domain":[2032,20842],"padding":0}},"text":{"field":"t"},
     "color":{"field":"k","type":"nominal","legend":null,"scale":{"domain":["0","0.236","0.382","0.5","0.618","0.786","1","1.618"],"range":["#8a8a8a","#d9534f","#9fbd45","#4cae4c","#7f9fb0","#3d8fd1","#8a8a8a","#6a6ad0"]}}}},
   {"data":{"name":"hl"},"mark":{"type":"rule"},
    "encoding":{"x2":{"field":"d2"},"y":{"field":"p","type":"quantitative","title":null,"scale":{"domain":[2032,20842],"padding":0}},
     "color":{"condition":[{"test":"datum.k=='g'","value":"#62a83c"},{"test":"datum.k=='k'","value":"#555555"}],"value":"#e645e6"},
     "strokeWidth":{"condition":[{"test":"datum.k=='g'","value":1.5},{"test":"datum.k=='k'","value":1}],"value":2},
     "strokeDash":{"condition":{"test":"datum.k=='k'","value":[1,2]},"value":[1,0]}}},
   {"data":{"name":"ln"},"mark":{"type":"line"},
    "encoding":{"y":{"field":"p","type":"quantitative","title":null,"scale":{"domain":[2032,20842],"padding":0}},"detail":{"field":"id"},
     "color":{"condition":[{"test":"datum.id=='r'","value":"#d41f1f"},{"test":"datum.id=='t'","value":"#8b6e84"}],"value":"#4a80d6"},
     "strokeWidth":{"condition":[{"test":"datum.id=='r'","value":3},{"test":"datum.id=='t'","value":2}],"value":1.5},
     "strokeDash":{"condition":{"test":"datum.id=='t'","value":[8,6]},"value":[1,0]}}},
   {"data":{"name":"rc"},"mark":{"type":"rect","fillOpacity":0,"stroke":"#28a528","strokeWidth":2},
    "encoding":{"x2":{"field":"d2"},"y":{"field":"p","type":"quantitative","title":null,"scale":{"domain":[2032,20842],"padding":0}},"y2":{"field":"p2"}}},
   {"data":{"name":"hb"},"mark":{"type":"bar","size":12,"orient":"horizontal"},
    "encoding":{"x2":{"field":"d2"},"y":{"field":"p","type":"quantitative","title":null,"scale":{"domain":[2032,20842],"padding":0}},
     "color":{"condition":{"test":"datum.k=='g'","value":"#5e9e3e"},"value":"#e33be3"}}},
   {"data":{"name":"hb"},"mark":{"type":"text","align":"left","baseline":"middle","dx":3,"fontSize":8.5,"color":"#ffffff"},
    "encoding":{"y":{"field":"p","type":"quantitative","title":null,"scale":{"domain":[2032,20842],"padding":0}},"text":{"field":"t"}}},
   {"data":{"values":[{"d":"2017-10-21T18:00:00Z","d2":"2017-10-31T22:00:00Z","p":21347,"p2":20842}]},"mark":{"type":"rect","color":"#f6c344"},
    "encoding":{"x2":{"field":"d2"},"y":{"field":"p","type":"quantitative","title":null,"scale":{"domain":[2032,20842],"padding":0}},"y2":{"field":"p2"}}},
   {"data":{"name":"tb"},"mark":{"type":"text","align":"center","baseline":"middle","fontSize":9.5,"fontWeight":"bold","color":"#555"},
    "encoding":{"y":{"field":"p","type":"quantitative","title":null,"scale":{"domain":[2032,20842],"padding":0}},"text":{"field":"t"}}},
   {"data":{"values":[{"d":"2017-10-20T07:00:00Z","p":20169,"t":"⊞"}]},"mark":{"type":"text","align":"left","baseline":"middle","fontSize":11,"color":"#888"},
    "encoding":{"y":{"field":"p","type":"quantitative","title":null,"scale":{"domain":[2032,20842],"padding":0}},"text":{"field":"t"}}},
   {"data":{"values":[{"d":"2017-10-27T14:00:00Z","p":20169,"t":"O10156.41  H10185.40  L9653.00  C9861.76"}]},"mark":{"type":"text","align":"left","baseline":"middle","fontSize":11.5,"color":"#cf3a8c"},
    "encoding":{"y":{"field":"p","type":"quantitative","title":null,"scale":{"domain":[2032,20842],"padding":0}},"text":{"field":"t"}}}
  ]}
 ]
},
{
 "width":1148,"height":103,
 "encoding":{"x":{"field":"d","type":"temporal","title":null,
   "scale":{"type":"utc","padding":0,"domain":[{"year":2017,"month":10,"date":14,"hours":12,"utc":true},{"year":2020,"month":1,"date":25,"hours":16,"utc":true}]},
   "axis":{"values":[{"year":2017,"month":11,"date":1,"utc":true},{"year":2018,"month":1,"date":1,"utc":true},{"year":2018,"month":3,"date":1,"utc":true},{"year":2018,"month":5,"date":1,"utc":true},{"year":2018,"month":7,"date":1,"utc":true},{"year":2018,"month":9,"date":1,"utc":true},{"year":2018,"month":11,"date":1,"utc":true},{"year":2019,"month":1,"date":1,"utc":true},{"year":2019,"month":3,"date":1,"utc":true},{"year":2019,"month":5,"date":1,"utc":true},{"year":2019,"month":7,"date":1,"utc":true},{"year":2019,"month":9,"date":1,"utc":true},{"year":2019,"month":11,"date":1,"utc":true},{"year":2020,"month":1,"date":1,"utc":true}],"labels":false,"ticks":false,"grid":true,"title":null}}},
 "layer":[
  {"data":{"values":[{"d":"2017-10-14T12:00:00Z","d2":"2020-01-25T16:00:00Z","p":30,"p2":70}]},"mark":{"type":"rect","color":"#efdff0"},
   "encoding":{"x2":{"field":"d2"},"y":{"field":"p","type":"quantitative","title":null,"scale":{"domain":[6.1,95.65],"padding":0}},"y2":{"field":"p2"}}},
  {"data":{"values":[{"d":"2017-10-14T12:00:00Z","d2":"2020-01-25T16:00:00Z","p":30},{"d":"2017-10-14T12:00:00Z","d2":"2020-01-25T16:00:00Z","p":70}]},"mark":{"type":"rule","color":"#9a9a9a","strokeDash":[6,4],"strokeWidth":1.2},
   "encoding":{"x2":{"field":"d2"},"y":{"field":"p","type":"quantitative","title":null,"scale":{"domain":[6.1,95.65],"padding":0}}}},
  {"data":{"values":[{"d":"2017-10-14T12:00:00Z","p":20},{"d":"2017-10-14T12:00:00Z","p":40},{"d":"2017-10-14T12:00:00Z","p":60},{"d":"2017-10-14T12:00:00Z","p":80}]},"mark":{"type":"text","align":"right","baseline":"middle","dx":-6,"fontSize":8.5,"color":"#555"},
   "encoding":{"y":{"field":"p","type":"quantitative","title":null,"scale":{"domain":[6.1,95.65],"padding":0}},"text":{"field":"p","type":"quantitative","format":".4f"}}},
  {"data":{"name":"px"},"mark":{"type":"line","color":"#b06ab6","strokeWidth":1},
   "encoding":{"y":{"field":"r","type":"quantitative","title":null,"scale":{"domain":[6.1,95.65],"padding":0},
     "axis":{"orient":"left","values":[20,40,60,80],"labels":false,"grid":true,"title":null}}}}
 ]
},
{
 "width":1148,"height":80,
 "encoding":{"x":{"field":"d","type":"temporal","title":null,
   "scale":{"type":"utc","padding":0,"domain":[{"year":2017,"month":10,"date":14,"hours":12,"utc":true},{"year":2020,"month":1,"date":25,"hours":16,"utc":true}]},
   "axis":{"values":[{"year":2017,"month":11,"date":1,"utc":true},{"year":2018,"month":1,"date":1,"utc":true},{"year":2018,"month":3,"date":1,"utc":true},{"year":2018,"month":5,"date":1,"utc":true},{"year":2018,"month":7,"date":1,"utc":true},{"year":2018,"month":9,"date":1,"utc":true},{"year":2018,"month":11,"date":1,"utc":true},{"year":2019,"month":1,"date":1,"utc":true},{"year":2019,"month":3,"date":1,"utc":true},{"year":2019,"month":5,"date":1,"utc":true},{"year":2019,"month":7,"date":1,"utc":true},{"year":2019,"month":9,"date":1,"utc":true},{"year":2019,"month":11,"date":1,"utc":true},{"year":2020,"month":1,"date":1,"utc":true}],
     "labelExpr":"utcmonth(datum.value)==0 ? utcFormat(datum.value,'%Y') : utcFormat(datum.value,'%b')",
     "labelFontWeight":{"condition":{"test":"utcmonth(datum.value)==0","value":"bold"},"value":"normal"},
     "labelFontSize":9.5,"labelPadding":7,"ticks":false,"grid":true,"title":null,"labelOverlap":false}}},
 "layer":[
  {"data":{"name":"px"},"mark":{"type":"area","color":"#f23f3f","opacity":0.9},
   "encoding":{"y":{"field":"g","type":"quantitative","title":null,"scale":{"domain":[-1765,2941],"padding":0},
     "axis":{"orient":"left","values":[0,2000],"format":".4f","grid":true,"title":null,"labelOverlap":false}},"y2":{"datum":0}}},
  {"data":{"values":[{"d":"2017-10-14T12:00:00Z","d2":"2020-01-25T16:00:00Z","p":-244.7149}]},"mark":{"type":"rule","color":"#777","strokeDash":[4,3],"strokeWidth":1},
   "encoding":{"x2":{"field":"d2"},"y":{"field":"p","type":"quantitative","title":null,"scale":{"domain":[-1765,2941],"padding":0}}}},
  {"data":{"name":"px"},"mark":{"type":"line","color":"#e48ac6","strokeWidth":1.2},
   "encoding":{"y":{"field":"s","type":"quantitative","title":null,"scale":{"domain":[-1765,2941],"padding":0}}}},
  {"data":{"name":"px"},"mark":{"type":"line","color":"#6a6adf","strokeWidth":1.2},
   "encoding":{"y":{"field":"m","type":"quantitative","title":null,"scale":{"domain":[-1765,2941],"padding":0}}}},
  {"data":{"values":[{"d":"2017-09-06T18:00:00Z","d2":"2017-10-15T06:00:00Z","p":-244.7149,"t":"-244.7149"}]},"mark":{"type":"bar","size":13,"orient":"horizontal","color":"#3a3a3a"},
   "encoding":{"x2":{"field":"d2"},"y":{"field":"p","type":"quantitative","title":null,"scale":{"domain":[-1765,2941],"padding":0}}}},
  {"data":{"values":[{"d":"2017-09-06T18:00:00Z","p":-244.7149,"t":"-244.7149"}]},"mark":{"type":"text","align":"left","baseline":"middle","dx":5,"fontSize":9,"color":"#ffffff"},
   "encoding":{"y":{"field":"p","type":"quantitative","title":null,"scale":{"domain":[-1765,2941],"padding":0}},"text":{"field":"t"}}},
  {"data":{"values":[{"d":"2017-10-31T05:00:00Z","p":-412}]},"mark":{"type":"point","filled":true,"shape":"circle","size":800,"color":"#ffffff","stroke":"#eeeeee","strokeWidth":1,"opacity":1},
   "encoding":{"y":{"field":"p","type":"quantitative","title":null,"scale":{"domain":[-1765,2941],"padding":0}}}},
  {"data":{"values":[{"d":"2017-10-31T05:00:00Z","p":-412,"t":"☁"}]},"mark":{"type":"text","align":"center","baseline":"middle","fontSize":15,"color":"#4ba6e0"},
   "encoding":{"y":{"field":"p","type":"quantitative","title":null,"scale":{"domain":[-1765,2941],"padding":0}},"text":{"field":"t"}}},
  {"data":{"values":[{"d":"2017-11-15T10:00:00Z","p":-412,"t":"Chart by TradingView"}]},"mark":{"type":"text","align":"left","baseline":"middle","fontSize":11,"color":"#74bfe9"},
   "encoding":{"y":{"field":"p","type":"quantitative","title":null,"scale":{"domain":[-1765,2941],"padding":0}},"text":{"field":"t"}}}
 ]
}
]
}
